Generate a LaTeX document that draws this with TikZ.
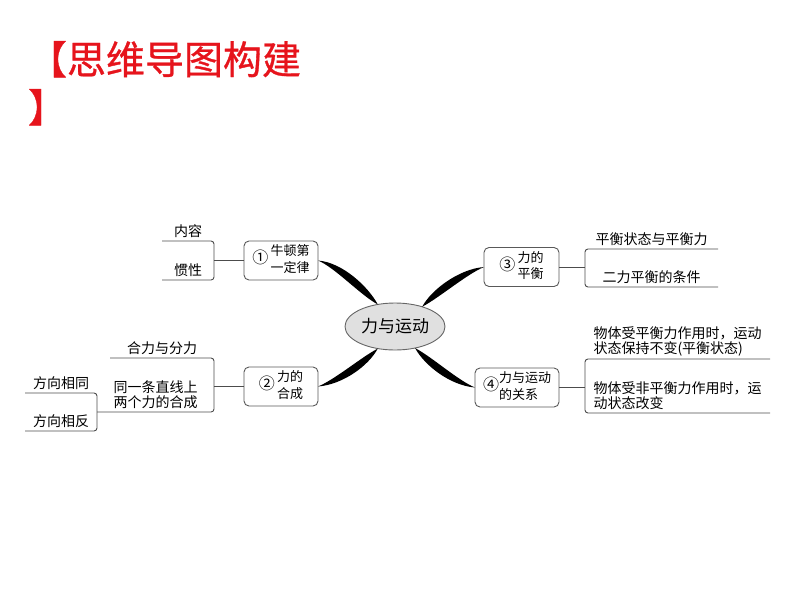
\documentclass[tikz,border=0pt]{standalone}
\usepackage{fontspec}
\setmainfont{Noto Sans CJK SC}
\newfontfamily\headfont{Noto Sans CJK SC}[FakeBold=0.8]
\usetikzlibrary{shapes.geometric}
\definecolor{headred}{RGB}{230,20,28}
\newcommand\twolines[2]{\begin{tabular}{@{}l@{}}#1\\#2\end{tabular}}
\newcommand\circnum[1]{{\fontsize{16}{16}\selectfont#1}}
\begin{document}
\begin{tikzpicture}[x=1pt,y=-1pt,inner sep=0pt,outer sep=0pt,
head/.style={anchor=base west,text=headred,font=\headfont\fontsize{39}{39}\selectfont},
hub/.style={draw=black!60,fill=black!12,ellipse,line width=0.9pt,minimum width=100pt,minimum height=47pt,font=\fontsize{17}{17}\selectfont},
topic/.style={draw=black!65,rounded corners=5pt,line width=0.9pt,minimum height=39pt,font=\fontsize{13}{16.5}\selectfont},
leaf/.style={anchor=south,inner ysep=3pt,align=left,font=\fontsize{14}{15}\selectfont},
twig/.style={draw=black!70,line width=0.9pt,rounded corners=3pt},
limb/.style={fill=black}]
\useasboundingbox (0,0) rectangle (800,600);
\draw (28,74) node[head] (title) {【思维导图构建};
\draw (28,122) node[head] (titletail) {】};
\draw (395,326.5) node[hub] (hub) {力与运动};
\draw (281,260.5) node[topic,minimum width=74pt] (newton) {\circnum{①}\,\twolines{牛顿第}{一定律}};
\draw (281,386.5) node[topic,minimum width=74pt] (combine) {\circnum{②}\,\twolines{力的}{合成}};
\draw (521.5,267) node[topic,minimum width=75pt] (equil) {\circnum{③}\,\twolines{力的}{平衡}};
\draw (517,387.5) node[topic,minimum width=84pt] (relation) {\circnum{④}\twolines{力与运动}{的关系}};
\fill[limb] (newton.east) .. controls +(25,2) and +(-9,-17) .. (hub.128) .. controls +(-17,-9) and +(17,7) .. (newton.east);
\fill[limb] (combine.east) .. controls +(25,-2) and +(-9,17) .. (hub.232) .. controls +(-17,9) and +(17,-7) .. (combine.east);
\fill[limb] (equil.west) .. controls +(-25,2) and +(9,-17) .. (hub.36) .. controls +(17,-9) and +(-17,7) .. (equil.west);
\fill[limb] (relation.west) .. controls +(-25,-2) and +(9,17) .. (hub.313) .. controls +(17,9) and +(-17,-7) .. (relation.west);
\draw (188,241) node[leaf,minimum width=52pt] (content) {内容};
\draw (188,280) node[leaf,minimum width=52pt] (inertia) {惯性};
\draw (162,358) node[leaf,minimum width=104pt] (resultant) {合力与分力};
\draw (155.5,412) node[leaf,minimum width=117pt] (collinear) {同一条直线上\\两个力的合成};
\draw (61,393) node[leaf,minimum width=72pt] (same) {方向相同};
\draw (61,431) node[leaf,minimum width=72pt] (opposite) {方向相反};
\draw (651.5,249) node[leaf,minimum width=133pt] (balance) {平衡状态与平衡力};
\draw (651.5,287) node[leaf,minimum width=133pt] (condition) {二力平衡的条件};
\draw (677.5,359) node[leaf,minimum width=185pt] (steady) {物体受平衡力作用时，运动\\状态保持不变(平衡状态)};
\draw (677.5,413) node[leaf,minimum width=185pt] (changing) {物体受非平衡力作用时，运\\动状态改变};
\draw[twig] (content.south west) -- (content.south east) -- (inertia.south east) -- (inertia.south west);
\draw[twig] (newton) -- (newton -| content.east);
\draw[twig] (resultant.south west) -- (resultant.south east) -- (collinear.south east) -- (collinear.south west);
\draw[twig] (combine) -- (combine -| resultant.east);
\draw[twig] (same.south west) -- (same.south east) -- (opposite.south east) -- (opposite.south west);
\draw[twig] (balance.south east) -- (balance.south west) -- (condition.south west) -- (condition.south east);
\draw[twig] (equil) -- (equil -| balance.west);
\draw[twig] (steady.south east) -- (steady.south west) -- (changing.south west) -- (changing.south east);
\draw[twig] (relation) -- (relation -| steady.west);
\end{tikzpicture}
\end{document}
